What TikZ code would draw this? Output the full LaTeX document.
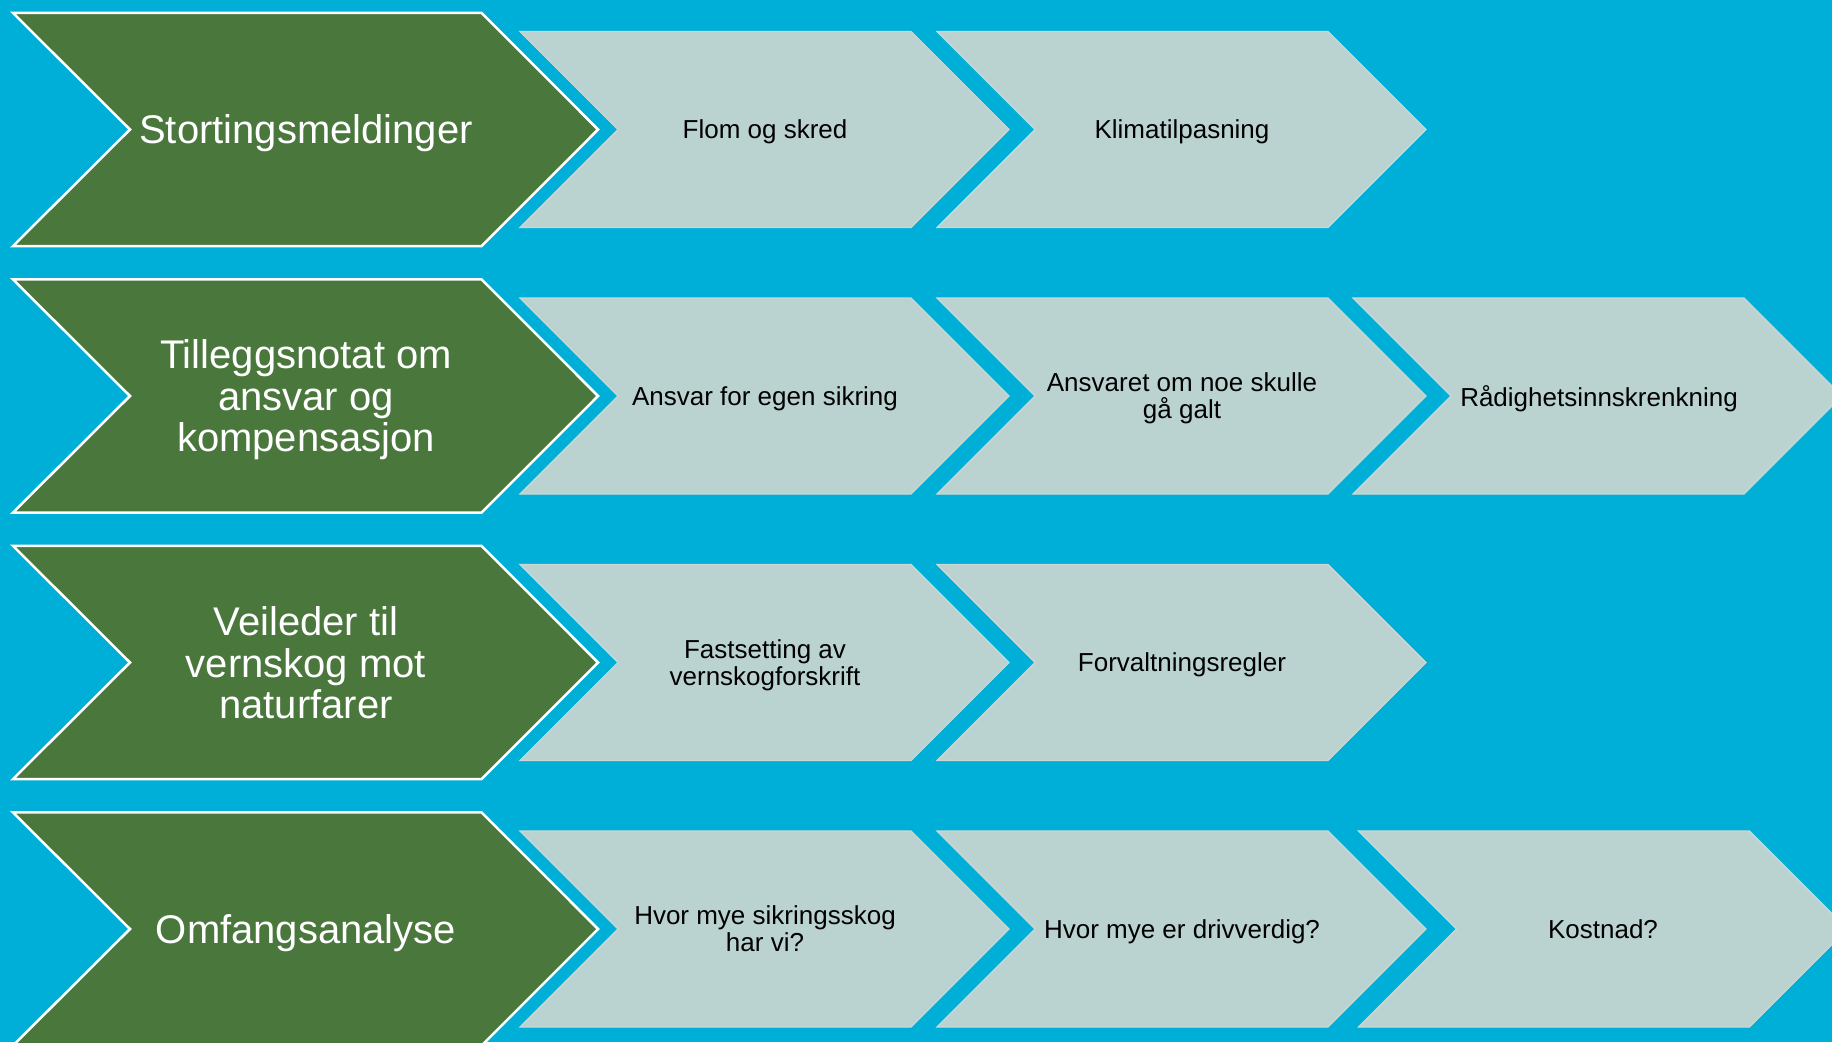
\documentclass[tikz,border=0pt]{standalone}
\usepackage{fontspec}
\setmainfont{Liberation Sans}
\definecolor{bg}{RGB}{0,175,216}
\definecolor{grn}{RGB}{74,119,60}
\definecolor{gry}{RGB}{186,211,209}
\definecolor{gryline}{RGB}{202,216,213}
\tikzset{
  greenchev/.style={fill=grn, draw=white, line width=2.5pt, line join=miter},
  graychev/.style={fill=gry, draw=gryline, line width=1.2pt, line join=miter},
  greentext/.style={text=white, font=\fontsize{40}{41.5}\selectfont, align=center, inner sep=0pt, text depth=0pt},
  graytext/.style={text=black, font=\fontsize{26}{27}\selectfont, align=center, inner sep=0pt, text depth=0pt},
}
\newcommand\mygreenchev[1]{%
  \draw[greenchev] (13,{#1-116.6}) -- (481.5,{#1-116.6}) -- (598,#1) -- (481.5,{#1+116.6}) -- (13,{#1+116.6}) -- (130,#1) -- cycle;}
\newcommand\mygraychev[2]{%
  \draw[graychev] (#1,{#2-98}) -- ({#1+391},{#2-98}) -- ({#1+489},#2) -- ({#1+391},{#2+98}) -- (#1,{#2+98}) -- ({#1+98},#2) -- cycle;}
\begin{document}
\begin{tikzpicture}[x=1pt,y=-1pt]
  \useasboundingbox (0,0) rectangle (1832,1042);
  \clip (0,0) rectangle (1832,1042);
  \fill[bg] (0,0) rectangle (1832,1042);

  % row 1
  \mygreenchev{129.5}
  \mygraychev{520}{129.5}
  \mygraychev{937}{129.5}
  \node[greentext] (g1) at (306,129.5) {Stortingsmeldinger};
  \node[graytext] (a1) at (765,129.5) {Flom og skred};
  \node[graytext] (b1) at (1182,129.5) {Klimatilpasning};

  % row 2
  \mygreenchev{396}
  \mygraychev{520}{396}
  \mygraychev{937}{396}
  \mygraychev{1353}{396}
  \node[greentext] (g2) at (306,396) {Tilleggsnotat om\\ansvar og\\kompensasjon};
  \node[graytext] (a2) at (765,396) {Ansvar for egen sikring};
  \node[graytext] (b2) at (1182,396) {Ansvaret om noe skulle\\gå galt};
  \node[graytext] (c2) at (1599,396) {Rådighetsinnskrenkning};

  % row 3
  \mygreenchev{662.5}
  \mygraychev{520}{662.5}
  \mygraychev{937}{662.5}
  \node[greentext] (g3) at (306,662.5) {Veileder til\\vernskog mot\\naturfarer};
  \node[graytext] (a3) at (765,662.5) {Fastsetting av\\vernskogforskrift};
  \node[graytext] (b3) at (1182,662.5) {Forvaltningsregler};

  % row 4
  \mygreenchev{929}
  \mygraychev{520}{929}
  \mygraychev{937}{929}
  \mygraychev{1358.5}{929}
  \node[greentext] (g4) at (306,929) {Omfangsanalyse};
  \node[graytext] (a4) at (765,929) {Hvor mye sikringsskog\\har vi?};
  \node[graytext] (b4) at (1182,929) {Hvor mye er drivverdig?};
  \node[graytext] (c4) at (1603,929) {Kostnad?};
\end{tikzpicture}
\end{document}
